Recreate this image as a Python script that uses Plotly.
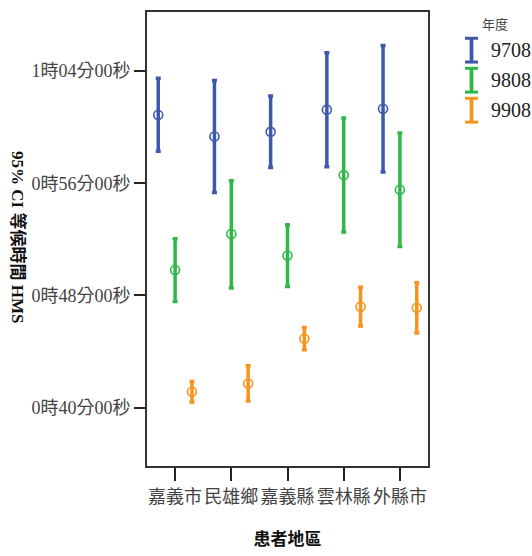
import plotly.graph_objects as go

# Patient regions (x categories)
regions = ["嘉義市", "民雄鄉", "嘉義縣", "雲林縣", "外縣市"]

# Survey years (series)
years = ["9708", "9808", "9908"]

# Mean waiting time and 95% CI bounds, in seconds
mean_9708 = [3652, 3560, 3580, 3675, 3679]
low_9708 = [3497, 3320, 3427, 3431, 3408]
high_9708 = [3809, 3800, 3733, 3919, 3950]

mean_9808 = [2989, 3143, 3051, 3395, 3332]
low_9808 = [2854, 2912, 2918, 3151, 3089]
high_9808 = [3123, 3371, 3182, 3639, 3575]

mean_9908 = [2468, 2503, 2695, 2832, 2827]
low_9908 = [2424, 2428, 2647, 2749, 2719]
high_9908 = [2512, 2579, 2743, 2915, 2934]

# Y-axis ticks (seconds) and their H:M:S labels
y_tick_vals = [2400, 2880, 3360, 3840]
y_tick_text = ["0時40分00秒", "0時48分00秒", "0時56分00秒", "1時04分00秒"]

means = [mean_9708, mean_9808, mean_9908]
lows = [low_9708, low_9808, low_9908]
highs = [high_9708, high_9808, high_9908]

colors = ["#3E58AC", "#2EB848", "#F7941E"]
offsets = [-0.3, 0.0, 0.3]

serif = "Liberation Serif, Noto Sans CJK TC, serif"
cjk = "Noto Sans CJK TC, sans-serif"

W, H = 532, 556
L, R, T, B = 147, 104, 10, 88
PW, PH = W - L - R, H - T - B


def px_x(p):
    return (p - L) / PW


def px_y(p):
    return (H - B - p) / PH


fig = go.Figure()

for i, year in enumerate(years):
    xs = [k + offsets[i] for k in range(len(regions))]
    fig.add_trace(go.Scatter(
        x=xs,
        y=means[i],
        mode="markers",
        name=year,
        showlegend=False,
        marker=dict(symbol="circle-open", size=9, color=colors[i],
                    line=dict(width=1.6, color=colors[i])),
        error_y=dict(
            type="data",
            symmetric=False,
            array=[h - m for h, m in zip(highs[i], means[i])],
            arrayminus=[m - lo for m, lo in zip(means[i], lows[i])],
            color=colors[i],
            thickness=3.5,
            width=2.5,
        ),
    ))

shapes = []
annotations = []

# Hand-drawn legend with I-beam glyphs
annotations.append(dict(
    text="年度", x=px_x(495), y=px_y(21.5), xref="paper", yref="paper",
    showarrow=False, xanchor="center", yanchor="middle",
    font=dict(family=cjk, size=13, color="#444"),
))
for i, year in enumerate(years):
    cy = 48.5 + 30.3 * i
    top, bot = cy - 13, cy + 13
    cx = 471.5
    shapes.append(dict(type="line", xref="paper", yref="paper",
                       x0=px_x(cx), x1=px_x(cx), y0=px_y(top), y1=px_y(bot),
                       line=dict(color=colors[i], width=3.8)))
    for yy in (top + 1, bot - 1):
        shapes.append(dict(type="line", xref="paper", yref="paper",
                           x0=px_x(465), x1=px_x(478), y0=px_y(yy), y1=px_y(yy),
                           line=dict(color=colors[i], width=3)))
    annotations.append(dict(
        text=year, x=px_x(489), y=px_y(cy), xref="paper", yref="paper",
        showarrow=False, xanchor="left", yanchor="middle",
        font=dict(family=serif, size=20, color="#222"),
    ))

# Rotated y-axis title reading top to bottom
annotations.append(dict(
    text="<b>95% CI 等候時間 HMS</b>", textangle=90,
    x=px_x(18), y=px_y(237), xref="paper", yref="paper",
    showarrow=False, xanchor="center", yanchor="middle",
    font=dict(family=serif, size=17, color="#111"),
))

fig.update_layout(
    width=W, height=H,
    margin=dict(l=L, r=R, t=T, b=B, pad=0),
    paper_bgcolor="white",
    plot_bgcolor="white",
    shapes=shapes,
    annotations=annotations,
    showlegend=False,
    xaxis=dict(
        range=[-0.5, len(regions) - 0.5],
        tickmode="array",
        tickvals=list(range(len(regions))),
        ticktext=regions,
        ticks="outside", ticklen=13, tickwidth=1.5, tickcolor="#222",
        showline=True, linecolor="#333", linewidth=2, mirror=True,
        showgrid=False, zeroline=False,
        tickfont=dict(family=cjk, size=18, color="#444"),
        title=dict(text="<b>患者地區</b>", font=dict(family=cjk, size=17, color="#111"),
                   standoff=27),
    ),
    yaxis=dict(
        range=[2150, 4093],
        tickmode="array",
        tickvals=y_tick_vals,
        ticktext=y_tick_text,
        ticks="outside", ticklen=11, tickwidth=1.5, tickcolor="#222",
        showline=True, linecolor="#333", linewidth=2, mirror=True,
        showgrid=False, zeroline=False,
        tickfont=dict(family=serif, size=18, color="#444"),
    ),
)

fig.write_html("out.html")
